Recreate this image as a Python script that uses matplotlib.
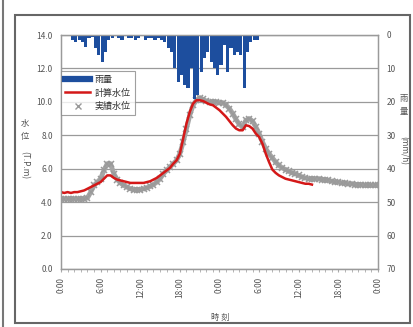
import numpy as np
import matplotlib
matplotlib.use("Agg")
import matplotlib.pyplot as plt
from matplotlib.patches import Rectangle
from matplotlib.lines import Line2D

plt.rcParams['font.family'] = ['Noto Sans CJK JP', 'DejaVu Sans']

# ---- data ----
t_obs = np.arange(0, 48.01, 0.5)
obs_level = [4.2, 4.2, 4.2, 4.2, 4.2, 4.2, 4.2, 4.2, 4.25, 4.6,
             5.0, 5.2, 5.4, 5.9, 6.3, 6.3, 5.7, 5.35, 5.15, 5.0,
             4.9, 4.8, 4.75, 4.75, 4.75, 4.8, 4.85, 4.95, 5.05, 5.2,
             5.4, 5.7, 5.9, 6.1, 6.3, 6.5, 6.9, 7.6, 8.4, 9.2,
             9.8, 10.1, 10.25, 10.15, 10.05, 10.0, 10.0, 10.0, 9.95, 9.95,
             9.8, 9.6, 9.3, 8.95, 8.65, 8.5, 8.9, 9.0, 8.85, 8.5,
             8.1, 7.6, 7.2, 6.9, 6.65, 6.4, 6.2, 6.05, 5.95, 5.85,
             5.75, 5.7, 5.6, 5.5, 5.45, 5.4, 5.4, 5.4, 5.4, 5.35,
             5.35, 5.3, 5.25, 5.2, 5.2, 5.15, 5.15, 5.1, 5.1, 5.05,
             5.05, 5.05, 5.0, 5.0, 5.0, 5.0, 5.0]

t_calc = np.arange(0, 38.01, 0.5)
calc_level = [4.6, 4.55, 4.6, 4.55, 4.6, 4.6, 4.65, 4.7, 4.8, 4.9,
              5.0, 5.1, 5.2, 5.4, 5.6, 5.6, 5.45, 5.35, 5.3, 5.25,
              5.2, 5.15, 5.15, 5.15, 5.15, 5.15, 5.2, 5.25, 5.35, 5.45,
              5.6, 5.75, 5.9, 6.05, 6.3, 6.5, 6.9, 7.8, 8.7, 9.4,
              9.9, 10.1, 10.1, 10.05, 9.95, 9.85, 9.8, 9.65, 9.5, 9.3,
              9.1, 8.85, 8.6, 8.4, 8.3, 8.3, 8.6, 8.55, 8.4, 8.1,
              7.9, 7.5, 6.9, 6.4, 5.95, 5.75, 5.6, 5.5, 5.4, 5.35,
              5.3, 5.25, 5.2, 5.15, 5.1, 5.1, 5.05]

t_rain = np.arange(0, 30.01, 0.5)
rain = [0, 0, 0, 1.5, 2, 1.5, 2, 3.5, 1, 0.5,
        4, 6, 8, 5, 1.5, 1, 0, 1, 1.5, 0,
        1, 1, 1.5, 1, 0, 1.5, 1, 1, 1.5, 1,
        1.5, 2, 4, 5, 10, 14, 12, 15, 16, 10,
        19, 18, 11, 7, 5, 8, 10, 12, 9, 3,
        11, 4, 6, 5, 6, 16, 5, 2, 1.5, 1.5, 0]

xticks = [0, 6, 12, 18, 24, 30, 36, 42, 48]
xticklabels = ["0:00", "6:00", "12:00", "18:00", "0:00", "6:00", "12:00", "18:00", "0:00"]
yticks = [0, 2, 4, 6, 8, 10, 12, 14]
rticks = [0, 10, 20, 30, 40, 50, 60, 70]

# ---- figure ----
W, H = 414, 327
fig = plt.figure(figsize=(W / 100, H / 100), dpi=100)
fig.patch.set_facecolor('white')

left, right, top, bottom = 61, 378, 35, 269
ax = fig.add_axes([left / W, 1 - bottom / H, (right - left) / W, (bottom - top) / H])

grid_c = '#9a9a9a'
txt_c = '#555555'

ax.plot(t_obs, obs_level, linestyle='-', color='#a6a6a6', lw=3.5,
        marker='x', markersize=4.5, markeredgewidth=1.1, markeredgecolor='#9a9a9a', zorder=3)
ax.plot(t_calc, calc_level, color='#d41818', lw=1.8, zorder=4)

ax.set_xlim(0, 48)
ax.set_ylim(0, 14)
ax.set_yticks(yticks)
ax.set_yticklabels([f"{v:.1f}" for v in yticks])
ax.set_xticks(xticks)
ax.set_xticklabels(xticklabels, rotation=90)
ax.set_xticks(np.arange(0, 49, 1), minor=True)
ax.grid(axis='y', color=grid_c, lw=0.9)
ax.tick_params(axis='both', labelsize=6, colors=txt_c, length=0, pad=6)
ax.tick_params(axis='x', which='minor', length=2, color='#aaaaaa')
ax.tick_params(axis='x', which='major', length=2, color='#aaaaaa', pad=4)
for s in ax.spines.values():
    s.set_color(grid_c)
    s.set_linewidth(0.9)

ax2 = ax.twinx()
ax2.bar(t_rain, rain, width=0.47, align='edge', color='#1d4e9e', edgecolor='none', zorder=2)
ax2.set_ylim(70, 0)
ax2.set_yticks(rticks)
ax2.tick_params(axis='y', labelsize=6, colors=txt_c, length=0, pad=6)
for s in ax2.spines.values():
    s.set_color(grid_c)
    s.set_linewidth(0.9)

handles = [Line2D([], [], color='#1d4e9e', lw=4.5),
           Line2D([], [], color='#d41818', lw=1.8),
           Line2D([], [], color='#999999', marker='x', linestyle='none', markersize=4)]
leg = ax2.legend(handles, ['雨量', '計算水位', '実績水位'], loc='upper left',
                 bbox_to_anchor=(0.0, 0.845), borderaxespad=0, fontsize=6.5,
                 frameon=True, fancybox=False, handlelength=2.8, handletextpad=0.5,
                 labelspacing=0.45, borderpad=0.45)
leg.get_frame().set_edgecolor('#888888')
leg.get_frame().set_linewidth(0.8)
for tx in leg.get_texts():
    tx.set_color('#333333')

# axis titles
fig.text(25 / W, 1 - 130 / H, '水\n位', fontsize=6, color=txt_c, ha='center', va='center', linespacing=1.6)
fig.text(25 / W, 1 - 165 / H, '(T.P.m)', fontsize=6, color=txt_c, ha='center', va='center', rotation=-90)
fig.text(404 / W, 1 - 105 / H, '雨\n量', fontsize=6, color=txt_c, ha='center', va='center', linespacing=1.6)
fig.text(404 / W, 1 - 150 / H, '(mm/h)', fontsize=6, color=txt_c, ha='center', va='center', rotation=-90)
fig.text(220 / W, 1 - 317 / H, '時 刻', fontsize=6, color=txt_c, ha='center', va='center')

# outer frames
fig.patches.append(Rectangle((15 / W, 1 - 323 / H), (410 - 15) / W, (323 - 15) / H,
                             transform=fig.transFigure, fill=False, edgecolor='#666666', lw=1.5))
fig.lines.append(Line2D([3 / W, 3 / W], [0, 1], transform=fig.transFigure, color='#777777', lw=1.5))

fig.savefig('out.png', dpi=100)
